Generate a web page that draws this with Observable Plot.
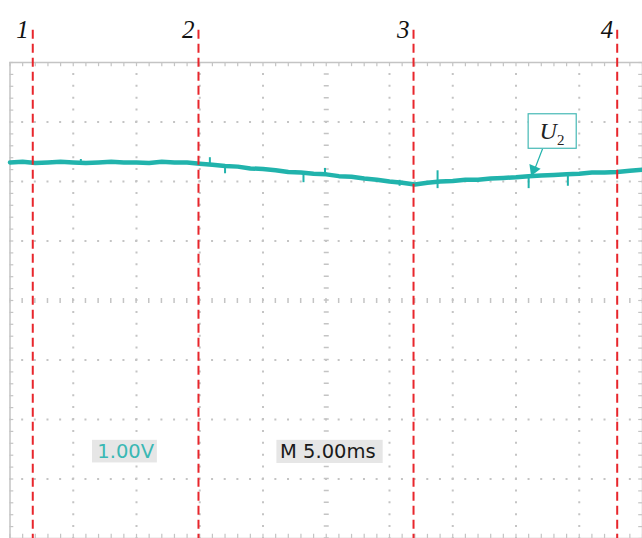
<!DOCTYPE html>
<html><head><meta charset="utf-8">
<script src="https://cdn.jsdelivr.net/npm/d3@7"></script>
<script src="https://cdn.jsdelivr.net/npm/@observablehq/plot@0.6"></script>
<style>
html,body{margin:0;padding:0;background:#fff;}
#chart svg{display:block;}
</style>
</head><body><div id="chart"></div>
<script>
// ---- data ----
const timeMs = [0,1,2,3,4,5,6,7,8,9,10,11,12,13,14,15,16,17,18,19,20,21,22,23,24,25,26,27,28,29,30,31,32,33,34,35,36,37,38,39,40,41,42,43,44,45,46,47,48,49,50];
const voltageV = [2.32,2.33,2.31,2.32,2.33,2.32,2.31,2.32,2.33,2.32,2.32,2.31,2.33,2.32,2.32,2.30,2.28,2.26,2.25,2.22,2.21,2.19,2.16,2.15,2.13,2.12,2.09,2.08,2.05,2.03,2.00,1.98,1.95,1.98,2.00,2.01,2.03,2.03,2.05,2.06,2.07,2.09,2.10,2.11,2.12,2.13,2.15,2.15,2.16,2.18,2.20];
const spikeTimes = [5.6, 15.8, 17.0, 23.2, 24.9, 30.8, 33.8, 41.0, 44.1];
const spikeLow   = [2.30, 2.28, 2.13, 1.98, 2.10, 1.92, 1.88, 1.88, 1.92];
const spikeHigh  = [2.37, 2.40, 2.27, 2.16, 2.22, 2.02, 2.18, 2.10, 2.14];
const markerTimes  = [1.8, 14.9, 31.9, 48.0];
const markerLabels = ["1", "2", "3", "4"];
const majorX = [0,5,10,15,20,25,30,35,40,45,50];
const majorY = [-4,-3,-2,-1,0,1,2,3,4];
const channelLabel = "1.00V";
const timebaseLabel = "M 5.00ms";
const traceName = "U";
const traceSub = "2";

// ---- derived tables ----
const trace = timeMs.map((t, i) => ({t, v: voltageV[i]}));
const spikes = spikeTimes.map((t, i) => ({t, lo: spikeLow[i], hi: spikeHigh[i]}));
const markers = markerTimes.map((t, i) => ({t, label: markerLabels[i]}));
const minorX = d3.range(0, 50.001, 1);
const minorY = d3.range(-4, 4.001, 0.2);
const innerX = majorX.filter(d => d !== 0 && d !== 50 && d !== 25);
const innerY = majorY.filter(d => d !== -4 && d !== 4 && d !== 0);

const TEAL = "#21b3ac";
const GRID = "#c4c4c4";
const RED = "#e8262c";

const chart = Plot.plot({
  width: 642, height: 538,
  marginLeft: 9.5, marginRight: 0, marginTop: 62, marginBottom: 0,
  x: {domain: [0, 50], axis: null},
  y: {domain: [-4, 4], axis: null},
  style: {background: "#fff", overflow: "visible"},
  marks: [
    // dotted graticule
    Plot.ruleX(innerX, {stroke: GRID, strokeWidth: 2, strokeDasharray: "2,9.9", strokeDashoffset: 1}),
    Plot.ruleY(innerY, {stroke: GRID, strokeWidth: 2, strokeDasharray: "2,10.66", strokeDashoffset: 1}),
    // center axes with ticks
    Plot.ruleX([25], {stroke: GRID, strokeWidth: 5, strokeDasharray: "1.5,10.4", strokeDashoffset: 0.75}),
    Plot.ruleY([0], {stroke: GRID, strokeWidth: 5, strokeDasharray: "1.5,11.16", strokeDashoffset: 0.75}),
    // border ticks
    Plot.ruleX(minorX, {y1: 4, y2: 3.93, stroke: GRID, strokeWidth: 1.2}),
    Plot.ruleX(minorX, {y1: -4, y2: -3.93, stroke: GRID, strokeWidth: 1.2}),
    Plot.ruleY(minorY, {x1: 0, x2: 0.3, stroke: GRID, strokeWidth: 1.2}),
    Plot.ruleY(minorY, {x1: 49.7, x2: 50, stroke: GRID, strokeWidth: 1.2}),
    Plot.frame({stroke: GRID, strokeWidth: 1.5}),
    // readout boxes
    Plot.rect([{x1: 6.52, x2: 11.65, y1: -2.35, y2: -2.73}], {x1: "x1", x2: "x2", y1: "y1", y2: "y2", fill: "#e6e6e6"}),
    Plot.rect([{x1: 21.1, x2: 29.5, y1: -2.35, y2: -2.74}], {x1: "x1", x2: "x2", y1: "y1", y2: "y2", fill: "#e6e6e6"}),
    Plot.text([channelLabel], {x: 6.9, y: -2.65, text: d => d, textAnchor: "start", lineAnchor: "bottom",
      fontFamily: "DejaVu Sans", fontSize: 19.5, fill: "#3ab8b4"}),
    Plot.text([timebaseLabel], {x: 21.35, y: -2.65, text: d => d, textAnchor: "start", lineAnchor: "bottom",
      fontFamily: "DejaVu Sans", fontSize: 19.5, fill: "#1a1a1a"}),
    // signal
    Plot.line(trace, {x: "t", y: "v", stroke: TEAL, strokeWidth: 4.5, curve: "linear"}),
    Plot.ruleX(spikes, {x: "t", y1: "lo", y2: "hi", stroke: TEAL, strokeWidth: 2}),
    // U2 annotation
    Plot.link([{x1: 42.1, y1: 2.55, x2: 41.5, y2: 2.22}], {x1: "x1", y1: "y1", x2: "x2", y2: "y2", stroke: TEAL, strokeWidth: 1.2}),
    Plot.dot([{x: 41.4, y: 2.2}], {x: "x", y: "y", symbol: "triangle", r: 4.5, fill: TEAL, stroke: "none", rotate: 202}),
    Plot.rect([{x1: 41.0, x2: 44.8, y1: 3.13, y2: 2.55}], {x1: "x1", x2: "x2", y1: "y1", y2: "y2", fill: "#fff", stroke: "#46b9b5", strokeWidth: 1.2}),
    Plot.text([traceName], {x: 41.85, y: 2.72, text: d => d, textAnchor: "start", lineAnchor: "bottom",
      fontFamily: "Liberation Serif", fontStyle: "italic", fontSize: 24, fill: "#222"}),
    Plot.text([traceSub], {x: 43.25, y: 2.62, text: d => d, textAnchor: "start", lineAnchor: "bottom",
      fontFamily: "Liberation Serif", fontSize: 15, fill: "#222"}),
    // cursor markers
    Plot.ruleX(markers, {x: "t", y1: 4.54, y2: -4, stroke: RED, strokeWidth: 2, strokeDasharray: "9,5"}),
    Plot.text(markers, {x: "t", y: 4.42, text: "label", textAnchor: "end", lineAnchor: "bottom", dx: -4,
      fontFamily: "Liberation Serif", fontStyle: "italic", fontSize: 25, fill: "#111"})
  ]
});
document.getElementById("chart").appendChild(chart);
</script>
</body></html>
